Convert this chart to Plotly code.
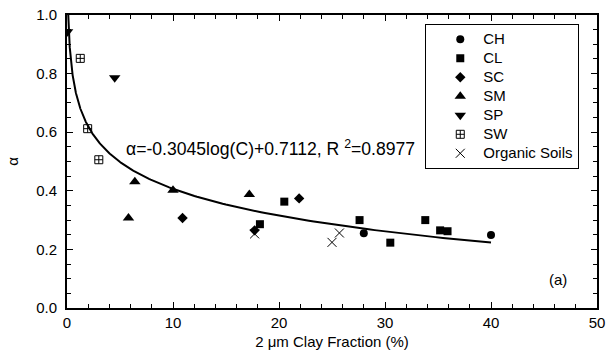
import numpy as np
import plotly.graph_objects as go

# ---- data ----
ch_x = [28.0, 40.0]
ch_y = [0.255, 0.249]

cl_x = [18.2, 20.5, 27.6, 30.5, 33.8, 35.2, 35.9]
cl_y = [0.286, 0.363, 0.300, 0.223, 0.300, 0.265, 0.262]

sc_x = [10.9, 21.9, 17.7]
sc_y = [0.307, 0.374, 0.265]

sm_x = [6.4, 5.8, 10.0, 17.2]
sm_y = [0.431, 0.307, 0.402, 0.387]

sp_x = [0.05, 4.5]
sp_y = [0.943, 0.786]

sw_x = [1.25, 1.95, 3.0]
sw_y = [0.852, 0.612, 0.506]

org_x = [17.7, 25.0, 25.7]
org_y = [0.253, 0.224, 0.256]

# regression: alpha = a*log10(C) + b
fit_a = -0.3045
fit_b = 0.7112
fit_r2 = 0.8977
fit_cmin, fit_cmax = 0.1, 40.0

FONT = "Liberation Sans, Arial, Helvetica, sans-serif"

fig = go.Figure()

series = [
    ("CH", ch_x, ch_y, "circle", 8, None),
    ("CL", cl_x, cl_y, "square", 8, None),
    ("SC", sc_x, sc_y, "diamond", 8, None),
    ("SM", sm_x, sm_y, "triangle-up", 10, None),
    ("SP", sp_x, sp_y, "triangle-down", 10, None),
    ("SW", sw_x, sw_y, "square-cross-open", 8, 1),
    ("Organic Soils", org_x, org_y, "x-thin-open", 9, 1),
]

c = np.logspace(np.log10(fit_cmin), np.log10(fit_cmax), 300)
fig.add_trace(go.Scatter(x=c, y=fit_a * np.log10(c) + fit_b, mode="lines",
                         line=dict(color="black", width=2), showlegend=False,
                         hoverinfo="skip"))

for name, xs, ys, sym, size, lw in series:
    marker = dict(symbol=sym, size=size, color="black")
    if lw is not None:
        marker["line"] = dict(color="black", width=lw)
    fig.add_trace(go.Scatter(
        x=xs, y=ys, mode="markers", marker=marker,
        name='<span style="font-size:15px">' + name + '</span>'))

axis_common = dict(
    showline=True, linecolor="black", linewidth=2, mirror="ticks",
    ticks="inside", ticklen=6, tickwidth=1, tickcolor="black",
    showgrid=False, zeroline=False, automargin=False,
    ticklabeloverflow="allow",
    tickfont=dict(family=FONT, size=15, color="black"),
    title_font=dict(family=FONT, size=15, color="black"),
)

fig.update_xaxes(range=[0, 50], dtick=10, tick0=0,
                 minor=dict(dtick=2, ticks="inside", ticklen=4, tickcolor="black"),
                 title_text="2 μm Clay Fraction (%)", title_standoff=6,
                 ticklabelstandoff=0,
                 **axis_common)
fig.update_yaxes(range=[0, 1.0], dtick=0.2, tick0=0, tickformat=".1f",
                 minor=dict(dtick=0.05, ticks="inside", ticklen=4, tickcolor="black"),
                 title_text="α", title_standoff=14,
                 ticklabelstandoff=5,
                 **axis_common)

fig.add_annotation(x=5.35, y=0.547, xref="x", yref="y", xanchor="left", yanchor="middle",
                   text=f"α={fit_a}log(C)+{fit_b}, R <sup>2</sup>={fit_r2}",
                   showarrow=False, font=dict(family=FONT, size=17.6, color="black"))
fig.add_annotation(x=46.3, y=0.096, xref="x", yref="y",
                   text="(a)", showarrow=False,
                   font=dict(family=FONT, size=15, color="black"))

fig.update_layout(
    width=606, height=355,
    margin=dict(l=67, r=9, t=15, b=47),
    paper_bgcolor="white", plot_bgcolor="white",
    font=dict(family=FONT, size=15, color="black"),
    legend=dict(x=0.676, y=0.97, xanchor="left", yanchor="top",
                bordercolor="black", borderwidth=1, bgcolor="white",
                font=dict(family=FONT, size=12, color="black"),
                itemwidth=36, indentation=11, tracegroupgap=0),
    showlegend=True,
)

fig.write_html("out.html", config={"displayModeBar": False},
               post_script="document.body.style.margin='0';document.body.style.overflow='hidden';")
